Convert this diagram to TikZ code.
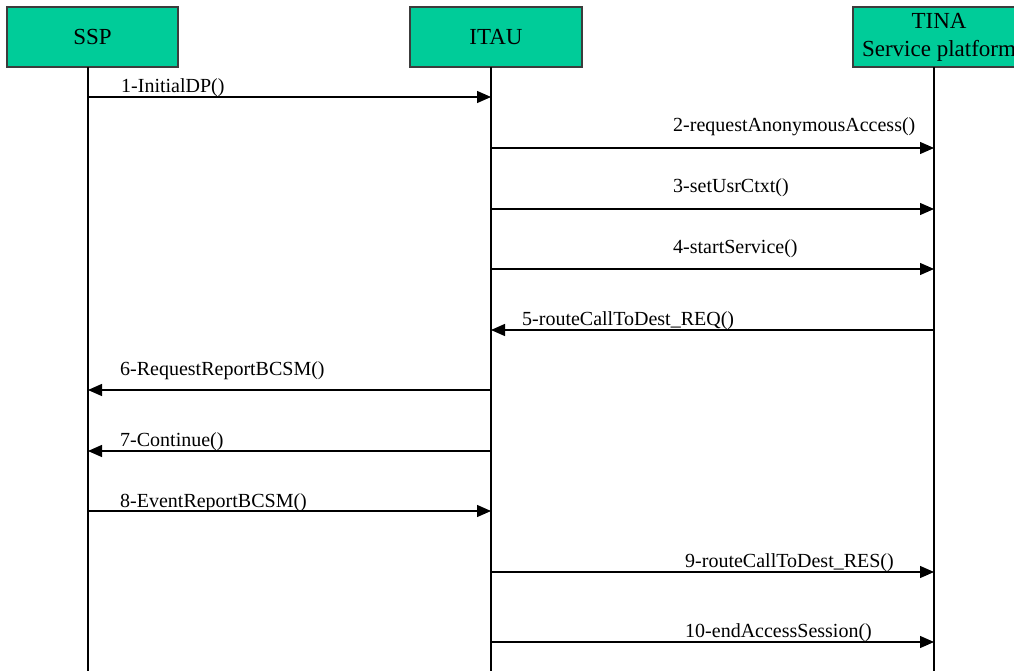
\documentclass[tikz,border=0pt]{standalone}
\usepackage{fontspec}
\setmainfont{Liberation Serif}
\usetikzlibrary{arrows.meta}
\definecolor{hdrfill}{RGB}{0,204,153}
\definecolor{hdrline}{RGB}{60,60,60}
\tikzset{
  hdr/.style={draw=hdrline, line width=1.3pt, fill=hdrfill, inner sep=0pt,
    font=\fontsize{23}{27}\selectfont, align=center},
  life/.style={draw=black, line width=1.3pt},
  msg/.style={draw=black, line width=1.3pt, -{Triangle[length=14pt,width=12pt]}},
  lbl/.style={anchor=base west, inner sep=0pt, font=\fontsize{20}{24}\selectfont}
}
\begin{document}
\begin{tikzpicture}[x=1pt,y=-1pt]
\clip (0,0) rectangle (1014,671);
\fill[white] (0,0) rectangle (1014,671);
% header boxes
\node[hdr, minimum width=171pt, minimum height=60pt] (ssp) at (92.5,37) {\raisebox{-2pt}{SSP}};
\node[hdr, minimum width=172pt, minimum height=60pt] (itau) at (496,37) {\raisebox{-2pt}{ITAU}};
\node[hdr, minimum width=172pt, minimum height=60pt] (tina) at (939,37) {TINA\\[1pt]Service platform};
% lifeline coordinates
\coordinate (sspL) at (88,67);
\coordinate (itauL) at (491,67);
\coordinate (tinaL) at (934,67);
\coordinate (bot) at (0,672);
\draw[life] (sspL) -- (sspL |- bot);
\draw[life] (itauL) -- (itauL |- bot);
\draw[life] (tinaL) -- (tinaL |- bot);
% message rows
\coordinate (m1) at (0,97);
\coordinate (m2) at (0,148);
\coordinate (m3) at (0,209);
\coordinate (m4) at (0,269);
\coordinate (m5) at (0,330);
\coordinate (m6) at (0,390);
\coordinate (m7) at (0,451);
\coordinate (m8) at (0,511);
\coordinate (m9) at (0,572);
\coordinate (m10) at (0,642);
\draw[msg] (sspL |- m1) -- (itauL |- m1);
\draw[msg] (itauL |- m2) -- (tinaL |- m2);
\draw[msg] (itauL |- m3) -- (tinaL |- m3);
\draw[msg] (itauL |- m4) -- (tinaL |- m4);
\draw[msg] (tinaL |- m5) -- (itauL |- m5);
\draw[msg] (itauL |- m6) -- (sspL |- m6);
\draw[msg] (itauL |- m7) -- (sspL |- m7);
\draw[msg] (sspL |- m8) -- (itauL |- m8);
\draw[msg] (itauL |- m9) -- (tinaL |- m9);
\draw[msg] (itauL |- m10) -- (tinaL |- m10);
% labels
\node[lbl] (l1) at (121,93) {1-InitialDP()};
\node[lbl] (l2) at (673,132) {2-requestAnonymousAccess()};
\node[lbl] (l3) at (673,193) {3-setUsrCtxt()};
\node[lbl] (l4) at (673,253) {4-startService()};
\node[lbl] (l5) at (522,325) {5-routeCallToDest\_REQ()};
\node[lbl] (l6) at (120,375) {6-RequestReportBCSM()};
\node[lbl] (l7) at (120,446) {7-Continue()};
\node[lbl] (l8) at (120,507) {8-EventReportBCSM()};
\node[lbl] (l9) at (685,567) {9-routeCallToDest\_RES()};
\node[lbl] (l10) at (685,637) {10-endAccessSession()};
\end{tikzpicture}
\end{document}
